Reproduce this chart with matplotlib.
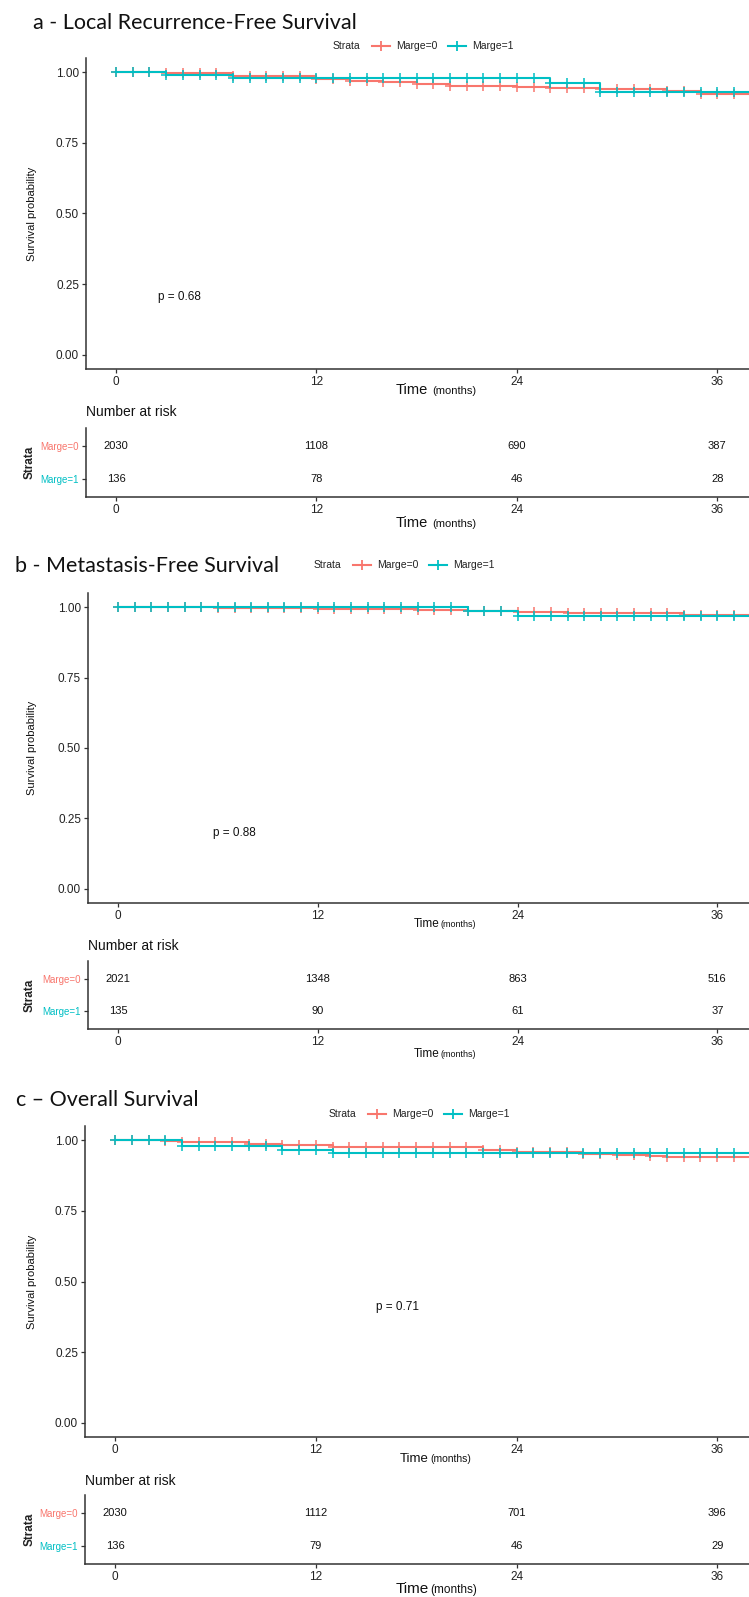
#!/usr/bin/env python3
"""Kaplan-Meier curves by margin status (three endpoints) with risk tables."""

import numpy as np
import matplotlib
matplotlib.use("Agg")
import matplotlib.pyplot as plt
from matplotlib.lines import Line2D

RED = "#F8766D"
CYAN = "#00BFC4"
INK = "#333333"

W, H = 749, 1597

# ---- data ----
titles = ["a - Local Recurrence-Free Survival",
          "b - Metastasis-Free Survival",
          "c \u2013 Overall Survival"]
strata = ["Marge=0", "Marge=1"]
x_ticks = [0, 12, 24, 36]
y_ticks = [0.0, 0.25, 0.50, 0.75, 1.00]
y_tick_labels = ["0.00", "0.25", "0.50", "0.75", "1.00"]

# panel a
a_m0_time = [0, 3, 7, 12, 14, 16, 18, 20, 24, 26, 29, 33, 35, 38]
a_m0_surv = [1.0, 0.996, 0.987, 0.975, 0.970, 0.964, 0.958, 0.952, 0.946,
             0.944, 0.940, 0.935, 0.924, 0.924]
a_m1_time = [0, 3, 7, 26, 29, 38]
a_m1_surv = [1.0, 0.990, 0.980, 0.960, 0.931, 0.931]
a_risk_m0 = [2030, 1108, 690, 387]
a_risk_m1 = [136, 78, 46, 28]
a_pval = "p = 0.68"

# panel b
b_m0_time = [0, 6, 12, 18, 21, 24, 27, 34, 38]
b_m0_surv = [1.0, 0.996, 0.992, 0.988, 0.986, 0.983, 0.980, 0.972, 0.972]
b_m1_time = [0, 21, 24, 38]
b_m1_surv = [1.0, 0.986, 0.970, 0.970]
b_risk_m0 = [2021, 1348, 863, 516]
b_risk_m1 = [135, 90, 61, 37]
b_pval = "p = 0.88"

# panel c
c_m0_time = [0, 3, 4, 8, 10, 13, 22, 24, 28, 30, 32, 33, 38]
c_m0_surv = [1.0, 0.996, 0.992, 0.988, 0.983, 0.975, 0.966, 0.958, 0.952,
             0.948, 0.944, 0.940, 0.940]
c_m1_time = [0, 4, 10, 13, 38]
c_m1_surv = [1.0, 0.980, 0.966, 0.953, 0.953]
c_risk_m0 = [2030, 1112, 701, 396]
c_risk_m1 = [136, 79, 46, 29]
c_pval = "p = 0.71"

# censoring times (one mark per month, both strata)
censor_months = [0, 1, 2, 3, 4, 5, 6, 7, 8, 9, 10, 11, 12, 13, 14, 15, 16,
                 17, 18, 19, 20, 21, 22, 23, 24, 25, 26, 27, 28, 29, 30, 31,
                 32, 33, 34, 35, 36, 37]

# p-value positions in data units (time, survival)
pval_pos = [(2.5, 0.205), (5.7, 0.20), (15.6, 0.41)]


def fx(px):
    return px / W


def fy(py):
    return 1 - py / H


def step_at(times, surv, t):
    i = np.searchsorted(times, t, side="right") - 1
    return np.asarray(surv)[i]


# layout in pixels for each panel
# t1/t2: (split x, baseline y, "Time" size, "(months)" size, gap)
layout = [
    dict(title_x=33, title_y=23, leg_y=46, leg_x=[333, 372, 396, 448, 472],
         left=86, top=58, bottom=369, nar_y=412, tab_row0=446, row_px=33,
         t1=(428, 394, 10.5, 8.0, 4), t2=(428, 527, 10.5, 8.0, 4)),
    dict(title_x=15, title_y=566, leg_y=565, leg_x=[314, 353, 377, 429, 453],
         left=88, top=593, bottom=903, nar_y=946, tab_row0=979, row_px=32,
         t1=(440, 927, 8.5, 6.5, 1), t2=(440, 1057, 8.5, 6.5, 1)),
    dict(title_x=16, title_y=1100, leg_y=1114, leg_x=[329, 368, 392, 444, 468],
         left=85, top=1126, bottom=1437, nar_y=1481, tab_row0=1513, row_px=33,
         t1=(429, 1462, 9.5, 7.5, 1), t2=(429, 1593, 11.0, 8.5, 1)),
]

curves = [
    ((a_m0_time, a_m0_surv), (a_m1_time, a_m1_surv)),
    ((b_m0_time, b_m0_surv), (b_m1_time, b_m1_surv)),
    ((c_m0_time, c_m0_surv), (c_m1_time, c_m1_surv)),
]
risks = [(a_risk_m0, a_risk_m1), (b_risk_m0, b_risk_m1), (c_risk_m0, c_risk_m1)]
pvals = [a_pval, b_pval, c_pval]

plt.rcParams["font.family"] = ["Liberation Sans", "DejaVu Sans"]

fig = plt.figure(figsize=(W / 100, H / 100), dpi=100)

XLIM = (-1.8, 37.9)
TAB_YLIM = (-0.55, 1.55)


def style_axis(ax):
    for s in ("top", "right"):
        ax.spines[s].set_visible(False)
    for s in ("left", "bottom"):
        ax.spines[s].set_color(INK)
        ax.spines[s].set_linewidth(1.1)
    ax.tick_params(direction="out", length=3, width=0.9, color=INK,
                   labelcolor="#222222", labelsize=8.5, pad=2)
    ax.set_xlim(*XLIM)
    ax.set_xticks(x_ticks)
    ax.set_xticklabels([str(t) for t in x_ticks])
    ax.patch.set_alpha(0)


def time_label(x_split, y_base, fs_big, fs_small, gap):
    fig.text(fx(x_split), fy(y_base), "Time", ha="right", va="baseline",
             fontsize=fs_big, color="#111111")
    fig.text(fx(x_split + gap), fy(y_base), "(months)", ha="left",
             va="baseline", fontsize=fs_small, color="#111111")


for k in range(3):
    L = layout[k]

    # title and legend
    fig.text(fx(L["title_x"]), fy(L["title_y"]), titles[k], ha="left",
             va="center", fontsize=15.5, family=["Lato", "DejaVu Sans"],
             color="#111111")
    lx = L["leg_x"]
    fig.text(fx(lx[0]), fy(L["leg_y"]), "Strata", ha="left", va="center",
             fontsize=7.5, color="#222222")
    for j, col in enumerate([RED, CYAN]):
        kx = lx[1 + 2 * j]
        fig.add_artist(Line2D([fx(kx), fx(kx + 18)], [fy(L["leg_y"])] * 2,
                              transform=fig.transFigure, color=col, lw=1.5))
        fig.add_artist(Line2D([fx(kx + 9)], [fy(L["leg_y"])],
                              transform=fig.transFigure, color=col,
                              marker="+", markersize=7, mew=1.3, lw=0))
        fig.text(fx(lx[2 + 2 * j]), fy(L["leg_y"]), strata[j], ha="left",
                 va="center", fontsize=7.5, color="#222222")

    # survival axes
    ax = fig.add_axes([fx(L["left"]), fy(L["bottom"]),
                       fx(W - L["left"]), (L["bottom"] - L["top"]) / H])
    style_axis(ax)
    ax.set_ylim(-0.05, 1.05)
    ax.set_yticks(y_ticks)
    ax.set_yticklabels(y_tick_labels)
    for (t, s), col in zip(curves[k], [RED, CYAN]):
        ax.step(t, s, where="post", color=col, lw=1.5, clip_on=True)
        cy = [step_at(t, s, c) for c in censor_months]
        ax.plot(censor_months, cy, ls="none", marker="+", markersize=7,
                mew=1.1, color=col)
    px, py = pval_pos[k]
    ax.text(px, py, pvals[k], ha="left", va="center", fontsize=8.5,
            color="#111111")
    fig.text(fx(32), fy((L["top"] + L["bottom"]) / 2), "Survival probability",
             rotation=90, ha="center", va="center", fontsize=8,
             color="#111111")
    time_label(*L["t1"])

    # risk table
    fig.text(fx(L["left"]), fy(L["nar_y"]), "Number at risk", ha="left",
             va="center", fontsize=10, color="#111111")
    r = L["row_px"]
    t_top = L["tab_row0"] - (TAB_YLIM[1] - 1) * r
    t_bot = L["tab_row0"] + (1 - TAB_YLIM[0]) * r
    tx = fig.add_axes([fx(L["left"]), fy(t_bot), fx(W - L["left"]),
                       (t_bot - t_top) / H])
    style_axis(tx)
    tx.set_ylim(*TAB_YLIM)
    tx.set_yticks([1, 0])
    tx.set_yticklabels(strata, fontsize=7)
    for lab, col in zip(tx.get_yticklabels(), [RED, CYAN]):
        lab.set_color(col)
    for row, vals in zip([1, 0], risks[k]):
        for t, v in zip(x_ticks, vals):
            tx.text(t, row, str(v), ha="center", va="center", fontsize=8,
                    color="#111111")
    fig.text(fx(30), fy(L["tab_row0"] + r / 2), "Strata", rotation=90,
             ha="center", va="center", fontsize=8.5, fontweight="bold",
             color="#222222")
    time_label(*L["t2"])

fig.savefig("out.png", dpi=100)
plt.close(fig)
